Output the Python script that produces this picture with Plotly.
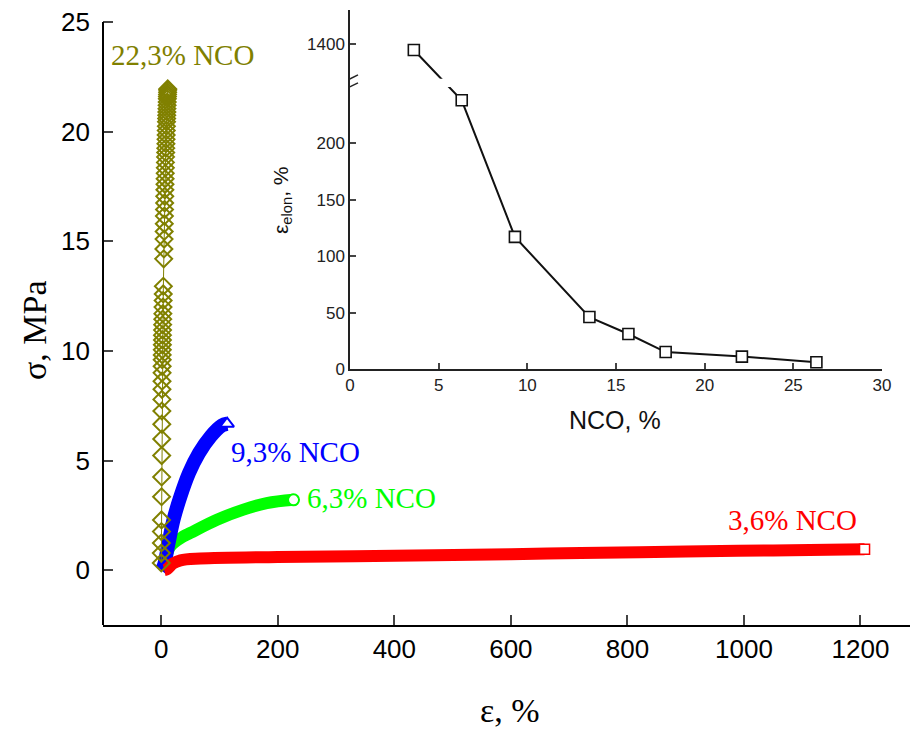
import plotly.graph_objects as go

# ---------------- main chart data (ε, %  vs  σ, MPa) ----------------
nco223_strain = [0.0, 0.1, 0.2, 0.3, 0.4, 0.5, 0.6, 0.7, 0.8, 0.9, 1.0, 1.1, 1.2, 1.3, 1.4, 1.5, 1.6, 1.7, 1.8, 1.9,
                 2.0, 2.1, 2.2, 2.4, 2.6, 2.8, 3.0, 3.2, 3.4, 3.6,
                 4.2, 4.5, 4.8, 5.0, 5.2, 5.4, 5.6, 5.8, 6.0, 6.2, 6.4, 6.6, 6.8, 7.0, 7.2, 7.4, 7.6, 7.8, 8.0, 8.2,
                 8.4, 8.6, 8.8, 9.0, 9.2, 9.4, 9.6, 9.8, 10.0, 10.2, 10.4, 10.6, 10.8, 10.9, 11.0, 11.1]
nco223_stress = [0.33, 0.78, 1.24, 1.76, 2.29, 3.35, 4.25, 5.23, 5.98, 6.66, 7.26, 7.79, 8.25, 8.62, 9.0, 9.3, 9.6, 9.82, 10.05, 10.28,
                 10.5, 10.72, 10.95, 11.2, 11.45, 11.7, 12.0, 12.3, 12.6, 12.95,
                 14.2, 14.65, 15.1, 15.45, 15.8, 16.15, 16.45, 16.75, 17.05, 17.35, 17.6, 17.85, 18.1, 18.35, 18.6, 18.85,
                 19.05, 19.25, 19.45, 19.65, 19.85, 20.05, 20.25, 20.45, 20.6, 20.75, 20.9, 21.05, 21.2, 21.35,
                 21.5, 21.6, 21.7, 21.8, 21.9, 21.95]

nco93_strain = [0, 4, 12.5, 21, 33, 47.6, 64.7, 84.7, 104, 113]
nco93_stress = [0.0, 0.17, 1.24, 2.3, 3.37, 4.43, 5.34, 6.1, 6.6, 6.68]

nco63_strain = [3, 7, 15.5, 38, 50, 95.6, 141, 181, 227]
nco63_stress = [0.1, 0.48, 1.08, 1.54, 1.7, 2.3, 2.76, 3.06, 3.21]

nco36_strain = [5, 10, 20, 33, 67, 200, 400, 600, 720, 900, 1050, 1207]
nco36_stress = [0.0, 0.05, 0.3, 0.45, 0.53, 0.6, 0.66, 0.73, 0.78, 0.85, 0.9, 0.95]

x_ticks = [0, 200, 400, 600, 800, 1000, 1200]
y_ticks = [0, 5, 10, 15, 20, 25]

# ---------------- inset data (NCO, % vs elongation, %) ----------------
inset_nco = [3.6, 6.3, 9.3, 13.5, 15.7, 17.8, 22.1, 26.3]
inset_elon = [1395, 238, 117, 46, 31, 15, 11, 6]
inset_y_ticks = [0, 50, 100, 150, 200, 1400]
inset_x_ticks = [0, 5, 10, 15, 20, 25, 30]

# broken-axis mapping for the inset (values above the break are shifted down)
BREAK_SHIFT = 1112.4
def brk(v):
    return v - BREAK_SHIFT if v > 1000 else v

OLIVE = "#808000"
BLUE = "#0000ff"
GREEN = "#00ff00"
RED = "#ff0000"
SANS = "Liberation Sans, Arial, sans-serif"
SERIF = "Liberation Serif, Times New Roman, serif"

fig = go.Figure()

# dense bands (overlapping markers in the original) drawn as thick strokes
fig.add_trace(go.Scatter(x=nco63_strain, y=nco63_stress, mode="lines",
                         line=dict(color=GREEN, width=12, shape="spline"), showlegend=False))
fig.add_trace(go.Scatter(x=nco93_strain, y=nco93_stress, mode="lines",
                         line=dict(color=BLUE, width=14, shape="spline"), showlegend=False))
fig.add_trace(go.Scatter(x=nco36_strain, y=nco36_stress, mode="lines",
                         line=dict(color=RED, width=12, shape="spline"), showlegend=False))
# end markers
fig.add_trace(go.Scatter(x=[nco63_strain[-1]], y=[nco63_stress[-1]], mode="markers",
                         marker=dict(symbol="circle", size=11, color="white", line=dict(color=GREEN, width=2)),
                         showlegend=False))
fig.add_trace(go.Scatter(x=[nco93_strain[-1]], y=[nco93_stress[-1]], mode="markers",
                         marker=dict(symbol="triangle-up", size=12, color="white", line=dict(color=BLUE, width=2)),
                         showlegend=False))
fig.add_trace(go.Scatter(x=[nco36_strain[-1]], y=[nco36_stress[-1]], mode="markers",
                         marker=dict(symbol="square", size=10, color="white", line=dict(color=RED, width=1.5)),
                         showlegend=False))
# 22.3% NCO diamonds
fig.add_trace(go.Scatter(x=nco223_strain, y=nco223_stress, mode="lines+markers",
                         line=dict(color=OLIVE, width=1),
                         marker=dict(symbol="diamond-open", size=13, color=OLIVE, line=dict(color=OLIVE, width=2)),
                         showlegend=False))

# inset
fig.add_trace(go.Scatter(x=inset_nco, y=[brk(v) for v in inset_elon], mode="lines+markers",
                         xaxis="x2", yaxis="y2",
                         line=dict(color="#111111", width=2),
                         marker=dict(symbol="square", size=11, color="white", line=dict(color="#111111", width=1.6)),
                         showlegend=False))

L, R, T, B = 103, 2, 10, 106
W, H = 912, 731
PW, PH = W - L - R, H - T - B

def px_x(p):
    return (p - L) / PW

def px_y(p):
    return (H - B - p) / PH

fig.update_layout(
    width=W, height=H, autosize=False,
    margin=dict(l=L, r=R, t=T, b=B, autoexpand=False),
    paper_bgcolor="white", plot_bgcolor="white",
    font=dict(family=SANS, color="black"),
    xaxis=dict(range=[-100, 1285], tickvals=x_ticks, ticks="inside", ticklen=10, tickwidth=2,
               showline=True, linewidth=2, linecolor="black", showgrid=False, zeroline=False,
               tickfont=dict(size=26, family=SANS), anchor="y", automargin=False),
    yaxis=dict(range=[-2.5, 25.55], tickvals=y_ticks, ticks="inside", ticklen=10, tickwidth=2,
               showline=False, showgrid=False, zeroline=False, ticklabelstandoff=12,
               tickfont=dict(size=26, family=SANS), anchor="x", automargin=False),
    xaxis2=dict(domain=[px_x(350), px_x(882)], range=[0, 30], tickvals=inset_x_ticks,
                ticks="inside", ticklen=6, tickwidth=1.5, showline=True, linewidth=1.5, linecolor="#222222",
                showgrid=False, zeroline=False, tickfont=dict(size=17, family=SANS, color="#222222"),
                anchor="y2", automargin=False),
    yaxis2=dict(domain=[px_y(369), 1.0], range=[0, 318],
                tickvals=[brk(v) for v in inset_y_ticks], ticktext=[str(v) for v in inset_y_ticks],
                ticks="inside", ticklen=6, tickwidth=1.5, showline=True, linewidth=1.5, linecolor="#222222",
                showgrid=False, zeroline=False, tickfont=dict(size=17, family=SANS, color="#222222"),
                anchor="x2", automargin=False),
)

shapes = [
    # main y-axis line from -2.5 to 25
    dict(type="line", xref="paper", yref="y", x0=0, x1=0, y0=-2.5, y1=25,
         line=dict(color="black", width=2)),
    # inset axis break: white gap + two slashes
    dict(type="rect", xref="x2", yref="y2", x0=-0.6, x1=12, y0=249.8, y1=257.2,
         fillcolor="white", line=dict(width=0), layer="above"),
    dict(type="line", xref="x2", yref="y2", x0=-0.45, x1=0.45, y0=246.5, y1=253.5,
         line=dict(color="#222222", width=1.5), layer="above"),
    dict(type="line", xref="x2", yref="y2", x0=-0.45, x1=0.45, y0=253.5, y1=260.5,
         line=dict(color="#222222", width=1.5), layer="above"),
]
fig.update_layout(shapes=shapes)

annotations = [
    dict(text="22,3% NCO", x=36, y=23.5, xref="x", yref="y", showarrow=False,
         font=dict(family=SERIF, size=29, color=OLIVE), xanchor="center", yanchor="middle"),
    dict(text="9,3% NCO", x=117, y=5.4, xref="x", yref="y", showarrow=False,
         font=dict(family=SERIF, size=29, color=BLUE), xanchor="left", yanchor="middle"),
    dict(text="6,3% NCO", x=247, y=3.3, xref="x", yref="y", showarrow=False,
         font=dict(family=SERIF, size=29, color=GREEN), xanchor="left", yanchor="middle"),
    dict(text="3,6% NCO", x=1197, y=2.3, xref="x", yref="y", showarrow=False,
         font=dict(family=SERIF, size=29, color=RED), xanchor="right", yanchor="middle"),
    dict(text="σ, MPa", x=px_x(35), y=px_y(330), xref="paper", yref="paper", showarrow=False,
         textangle=-90, font=dict(family=SERIF, size=34, color="black"), xanchor="center", yanchor="middle"),
    dict(text="ε, %", x=px_x(510), y=px_y(710), xref="paper", yref="paper", showarrow=False,
         font=dict(family=SERIF, size=34, color="black"), xanchor="center", yanchor="middle"),
    dict(text="NCO, %", x=px_x(615), y=px_y(420), xref="paper", yref="paper", showarrow=False,
         font=dict(family=SANS, size=25, color="#111111"), xanchor="center", yanchor="middle"),
    dict(text="ε<sub>elon</sub>, %", x=px_x(282), y=px_y(200), xref="paper", yref="paper", showarrow=False,
         textangle=-90, font=dict(family=SANS, size=21, color="#111111"), xanchor="center", yanchor="middle"),
]
fig.update_layout(annotations=annotations)

fig.write_html(
    "out.html",
    config={"displayModeBar": False, "responsive": False},
    post_script=("document.body.style.margin='0';document.body.style.overflow='hidden';"
                 "Plotly.relayout('{plot_id}', {width: 912, height: 731});"),
)
